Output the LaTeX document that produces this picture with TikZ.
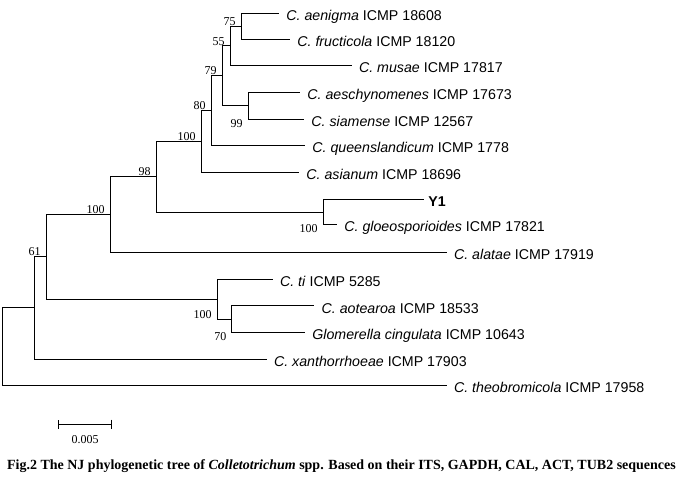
\documentclass[tikz,border=0pt]{standalone}
\usepackage{fontspec}
\setmainfont{Liberation Serif}
\setsansfont{Liberation Sans}
\usepackage{tikz}
\usetikzlibrary{arrows.meta}

\begin{document}
\begin{tikzpicture}[x=1pt, y=-1pt, line width=0.8pt,
    taxon/.style={anchor=base west, inner sep=0pt, xshift=7pt, yshift=-7.4pt,
        font=\sffamily\fontsize{14.2}{16}\selectfont},
    boot/.style={anchor=south east, inner sep=0pt, xshift=-5pt,
        font=\fontsize{12}{14}\selectfont},
    bootlow/.style={boot, anchor=north east}]

    \useasboundingbox (0,0) rectangle (691,480);

    % Tips
    \coordinate (aen) at (279, 13);
    \coordinate (fru) at (290, 39.3);
    \coordinate (mus) at (351.7, 65);
    \coordinate (aes) at (300, 92);
    \coordinate (sia) at (304, 119);
    \coordinate (que) at (305, 145);
    \coordinate (asi) at (299, 172);
    \coordinate (yone) at (424, 199);
    \coordinate (glo) at (337, 224.5);
    \coordinate (ala) at (446.7, 252);
    \coordinate (tii) at (272.7, 279);
    \coordinate (aot) at (314.3, 305.7);
    \coordinate (glm) at (305, 332);
    \coordinate (xan) at (266.7, 359);
    \coordinate (the) at (446.7, 385);

    % Internal nodes
    \coordinate (n75) at (241, 26.2);
    \coordinate (n55) at (230, 45.7);
    \coordinate (n99) at (248, 105.5);
    \coordinate (n79) at (222, 75.5);
    \coordinate (n80) at (211, 110);
    \coordinate (n100a) at (201, 141);
    \coordinate (n100b) at (323, 212);
    \coordinate (n98) at (156, 176.5);
    \coordinate (n100c) at (110, 214);
    \coordinate (n70) at (231.7, 319);
    \coordinate (n100d) at (217, 299);
    \coordinate (n61) at (46, 256.5);
    \coordinate (nx) at (34.3, 307.5);
    \coordinate (root) at (2.7, 346);

    % Branches
    \foreach \p/\c in {n75/aen, n75/fru, n55/n75, n55/mus, n99/aes, n99/sia,
        n79/n55, n79/n99, n80/n79, n80/que, n100a/n80, n100a/asi,
        n100b/yone, n100b/glo, n98/n100a, n98/n100b, n100c/n98, n100c/ala,
        n70/aot, n70/glm, n100d/tii, n100d/n70, n61/n100c, n61/n100d,
        nx/n61, nx/xan, root/nx, root/the} {
        \draw (\p) |- (\c);
    }

    % Taxa
    \node[taxon] (laen) at (aen) {\textit{C. aenigma} ICMP 18608};
    \node[taxon] (lfru) at (fru) {\textit{C. fructicola} ICMP 18120};
    \node[taxon] (lmus) at (mus) {\textit{C. musae} ICMP 17817};
    \node[taxon] (laes) at (aes) {\textit{C. aeschynomenes} ICMP 17673};
    \node[taxon] (lsia) at (sia) {\textit{C. siamense} ICMP 12567};
    \node[taxon] (lque) at (que) {\textit{C. queenslandicum} ICMP 1778};
    \node[taxon] (lasi) at (asi) {\textit{C. asianum} ICMP 18696};
    \node[taxon, xshift=-3pt, font=\sffamily\bfseries\fontsize{14.2}{16}\selectfont] (lyone) at (yone) {Y1};
    \node[taxon] (lglo) at (glo) {\textit{C. gloeosporioides} ICMP 17821};
    \node[taxon] (lala) at (ala) {\textit{C. alatae} ICMP 17919};
    \node[taxon] (ltii) at (tii) {\textit{C. ti} ICMP 5285};
    \node[taxon] (laot) at (aot) {\textit{C. aotearoa} ICMP 18533};
    \node[taxon] (lglm) at (glm) {\textit{Glomerella cingulata} ICMP 10643};
    \node[taxon] (lxan) at (xan) {\textit{C. xanthorrhoeae} ICMP 17903};
    \node[taxon] (lthe) at (the) {\textit{C. theobromicola} ICMP 17958};

    % Bootstrap values
    \node[boot] (b75) at (n75) {75};
    \node[boot] (b55) at (n55) {55};
    \node[boot] (b79) at (n79) {79};
    \node[boot] (b80) at (n80) {80};
    \node[boot] (b100a) at (n100a) {100};
    \node[boot] (b98) at (n98) {98};
    \node[boot] (b100c) at (n100c) {100};
    \node[boot] (b61) at (n61) {61};
    \node[bootlow] (b99) at (n99 |- sia) {99};
    \node[bootlow] (b100b) at (n100b |- glo) {100};
    \node[boot] (b100d) at (n100d |- n70) {100};
    \node[bootlow] (b70) at (n70 |- glm) {70};

    % Scale bar
    \coordinate (sba) at (58.3, 424);
    \coordinate (sbb) at (111.3, 424);
    \draw[{Bar[width=9pt]}-{Bar[width=9pt]}] (sba) -- (sbb);
    \node[font=\fontsize{12}{14}\selectfont] (sblab) at (85, 440) {0.005};

    % Caption
    \node[anchor=west, inner sep=0pt, font=\bfseries\fontsize{14}{16}\selectfont] (cap) at (6.7, 466)
        {Fig.2 The NJ phylogenetic tree of \textit{Colletotrichum} spp. Based on their ITS, GAPDH, CAL, ACT, TUB2 sequences};

\end{tikzpicture}
\end{document}
